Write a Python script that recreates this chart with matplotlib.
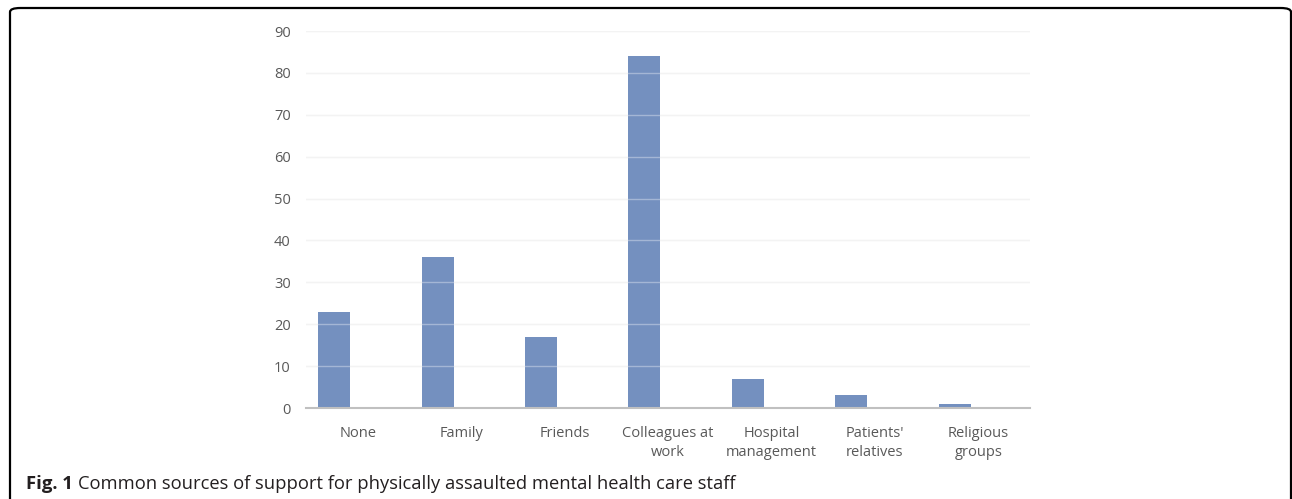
import numpy as np
import matplotlib
matplotlib.use("Agg")
import matplotlib.pyplot as plt
from matplotlib.patches import FancyBboxPatch

categories = ["None", "Family", "Friends", "Colleagues at\nwork", "Hospital\nmanagement",
              "Patients'\nrelatives", "Religious\ngroups"]
counts = [23, 36, 17, 84, 7, 3, 1]
yticks = list(range(0, 100, 10))

caption_bold = "Fig. 1"
caption_text = "Common sources of support for physically assaulted mental health care staff"

W, H = 1292, 499
fig = plt.figure(figsize=(W / 100, H / 100), dpi=100)

# outer frame, rounded top corners, open at bottom
frame = FancyBboxPatch((10 / W, -0.05), (1281 / W), 1.05 - 8 / H,
                       boxstyle="round,pad=0,rounding_size=0.008",
                       transform=fig.transFigure, fill=False, ec="black", lw=1.6,
                       clip_on=False)
fig.patches.append(frame)

ax = fig.add_axes([306 / W, 1 - 408 / H, 724 / W, (408 - 31) / H])

x = np.arange(len(categories))
ax.bar(x - 0.383, counts, width=0.31, align="edge", color="#7490BF", zorder=2)

ax.set_xlim(-0.5, len(categories) - 0.5)
ax.set_ylim(0, 90)
ax.set_yticks(yticks)
ax.set_xticks(x)
ax.set_xticklabels(categories)

ax.grid(axis="y", color="#EDEDED", lw=1, zorder=1)
ax.grid(axis="x", visible=False)
for y in yticks[1:]:
    ax.axhline(y, color="white", alpha=0.35, lw=1, zorder=3)

for s in ["top", "right", "left"]:
    ax.spines[s].set_visible(False)
ax.spines["bottom"].set_color("#C0C0C0")
ax.spines["bottom"].set_linewidth(1.5)
ax.spines["bottom"].set_zorder(4)

ax.tick_params(length=0, labelsize=10.5, labelcolor="#595959")
ax.tick_params(axis="x", pad=13)
ax.tick_params(axis="y", pad=11)
for lab in ax.get_xticklabels() + ax.get_yticklabels():
    lab.set_fontfamily("Open Sans")
    lab.set_linespacing(1.35)

# caption: bold part then regular part
t1 = fig.text(26 / W, 1 - 484 / H, caption_bold, fontsize=13.3, fontweight="bold",
              family="Open Sans", color="#231F20", va="center")
fig.canvas.draw()
bb = t1.get_window_extent()
fig.text((bb.x1 + 5) / W, 1 - 484 / H, caption_text, fontsize=13.2,
         family="Open Sans", color="#231F20", va="center")

fig.savefig("out.png", dpi=100)
